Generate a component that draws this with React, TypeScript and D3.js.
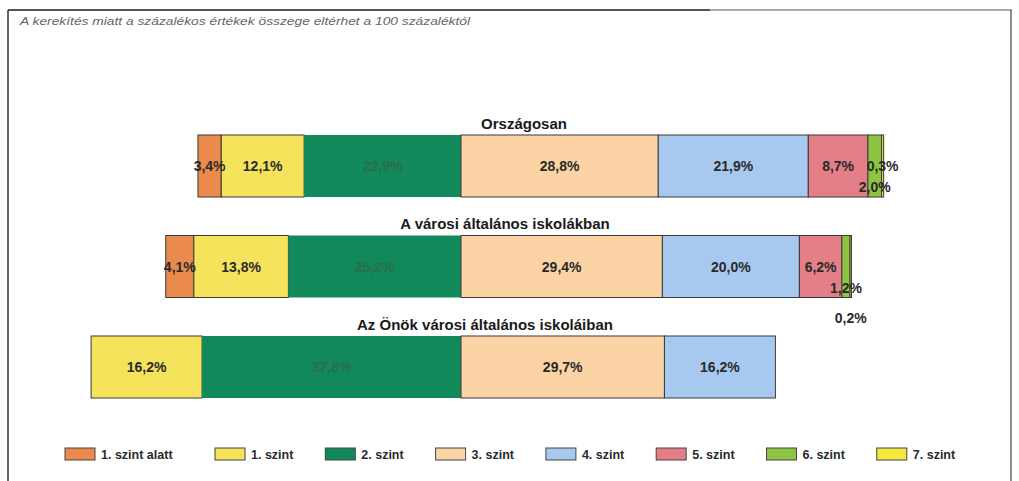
import * as d3 from 'd3';

const rows = ['Országosan', 'A városi általános iskolákban', 'Az Önök városi általános iskoláiban'];
const levels = ['1. szint alatt', '1. szint', '2. szint', '3. szint', '4. szint', '5. szint', '6. szint', '7. szint'];

const orszagos = [3.4, 12.1, 22.9, 28.8, 21.9, 8.7, 2.0, 0.3];
const varosi = [4.1, 13.8, 25.2, 29.4, 20.0, 6.2, 1.2, 0.2];
const onok = [0, 16.2, 37.8, 29.7, 16.2, 0, 0, 0];

const subtitle = 'A kerekítés miatt a százalékos értékek összege eltérhet a 100 százaléktól';

// level colours, scanned-print look
const colors = ['#EA8A4C', '#F6E35C', '#12895A', '#FBD3A4', '#A8C9EF', '#E47F87', '#8DC441', '#F3E83E'];

// label nudges for the tiny segments: [row][level] -> dy
const nudges: Record<string, number> = { '0-6': 21, '1-6': 21, '1-7': 51 };
// title centres, they are not centred on the bars in the original
const titleX = [524, 505, 485];

const W = 1019;
const H = 481;
const FONT = '"Liberation Sans", Arial, sans-serif';

const fmt = (v: number) => d3.format('.1f')(v).replace('.', ',') + '%';

export default function App() {
  const table = rows.map((r, i) => {
    const vals = [orszagos, varosi, onok][i];
    const o: Record<string, number | string> = { row: r };
    levels.forEach((l, j) => (o[l] = vals[j]));
    return o;
  });

  const series = d3.stack<Record<string, number | string>>().keys(levels).value((d, k) => d[k] as number)(table);

  // shift so the 2|3 level boundary sits on zero
  const shift = table.map(d => d3.sum(levels.slice(0, 3), k => d[k] as number));

  const x = d3.scaleLinear().domain([-50, 50]).range([118.5, 803.5]);
  const y = d3.scaleBand().domain(rows).range([135, 398]).paddingInner(0.383).paddingOuter(0);

  return (
    <svg width={W} height={H} style={{ position: 'absolute', left: 0, top: 0, background: '#fff' }} fontFamily={FONT}>
      {/* frame */}
      <line x1={8} x2={1012} y1={10} y2={10} stroke="#555" strokeWidth={2} />
      <line x1={710} x2={1012} y1={10} y2={10} stroke="#aaa" strokeWidth={2} />
      <line x1={8} x2={8} y1={10} y2={H} stroke="#333" strokeWidth={1.5} />
      <line x1={1011} x2={1011} y1={10} y2={H} stroke="#444" strokeWidth={1.2} />

      <text x={20} y={25} fontSize={11} fontStyle="italic" fill="#666" textLength={450} lengthAdjust="spacingAndGlyphs">
        {subtitle}
      </text>

      {rows.map((r, i) => (
        <text key={r} x={titleX[i]} y={y(r)! - 6} textAnchor="middle" fontSize={15} fontWeight="bold" fill="#1a1a1a">
          {r}
        </text>
      ))}

      {series.map((s, j) => (
        <g key={s.key} fill={colors[j]}>
          {s.map((d, i) => {
            const v = d[1] - d[0];
            if (v <= 0) return null;
            return (
              <rect
                key={i}
                x={x(d[0] - shift[i])}
                y={y(rows[i])}
                width={x(d[1] - shift[i]) - x(d[0] - shift[i])}
                height={y.bandwidth()}
                stroke={j === 2 ? 'none' : '#3a3a3a'}
                strokeWidth={1}
              />
            );
          })}
        </g>
      ))}

      {series.map((s, j) => (
        <g key={'l' + s.key}>
          {s.map((d, i) => {
            const v = d[1] - d[0];
            if (v <= 0) return null;
            const cx = (x(d[0] - shift[i]) + x(d[1] - shift[i])) / 2;
            const cy = y(rows[i])! + y.bandwidth() / 2 + (nudges[`${i}-${j}`] ?? 0);
            return (
              <text
                key={i}
                x={cx}
                y={cy}
                dy="0.36em"
                textAnchor="middle"
                fontSize={14}
                fontWeight="bold"
                fill={j === 2 ? '#2f6a4c' : '#2a2a2a'}
                opacity={j === 2 ? 0.85 : 1}
              >
                {fmt(v)}
              </text>
            );
          })}
        </g>
      ))}

      {/* legend */}
      {levels.map((l, j) => {
        const lx = j === 0 ? 65 : 215 + (j - 1) * 110.3;
        return (
          <g key={'lg' + l} transform={`translate(${lx},448)`}>
            <rect width={30} height={12} fill={colors[j]} stroke="#444" strokeWidth={1} />
            <text x={36} y={11} fontSize={12.5} fontWeight="bold" fill="#2a2a2a">
              {l}
            </text>
          </g>
        );
      })}
    </svg>
  );
}
